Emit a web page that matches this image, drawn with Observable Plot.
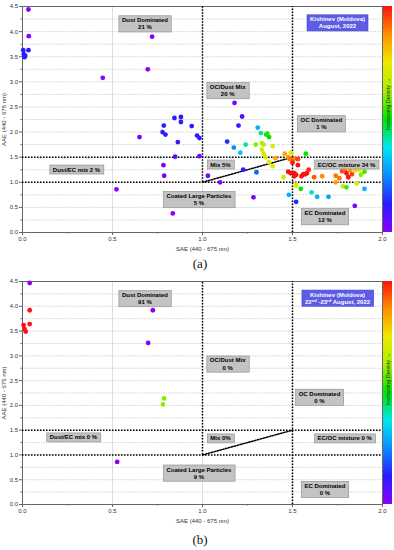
<!DOCTYPE html>
<html><head><meta charset="utf-8">
<script src="https://cdn.jsdelivr.net/npm/d3@7"></script>
<script src="https://cdn.jsdelivr.net/npm/@observablehq/plot@0.6"></script>
<style>
html,body{margin:0;padding:0;background:#fff;}
body{width:394px;height:550px;overflow:hidden;font-family:"Liberation Sans",Arial,sans-serif;}
svg{display:block;}
.cap{font-family:"Liberation Serif","Times New Roman",serif;font-size:13px;text-align:center;color:#111;padding-left:6px;}
</style></head>
<body>
<div id="pa"></div><div class="cap" id="ca" style="height:20px;line-height:20px">(a)</div>
<div id="pb"></div><div class="cap" id="cb" style="height:26px;line-height:28px">(b)</div>
<script>
// ---------- Panel (a) data: SAE, AAE, relative density (0 = lowest, 1 = highest)
const saeA = [0.033,0.035,0.033,0.004,0.007,0.011,0.015,0.446,0.72,0.696,0.844,0.88,0.88,0.94,0.785,0.778,0.794,0.65,0.97,0.983,0.863,0.848,0.983,
  0.783,0.787,
  0.522,0.835,1.283,1.098,
  1.03,1.226,1.30,1.35,1.405,1.37,1.39,1.476,1.485,1.45,
  1.178,1.22,1.20,1.137,1.174,1.21,1.24,1.307,1.324,1.354,1.37,1.36,1.296,1.33,1.34,1.39,1.33,1.34,1.457,1.49,
  1.574,
  1.51,1.53,1.50,1.53,1.476,1.49,1.51,1.55,1.56,1.57,1.58,1.52,1.51,1.62,1.665,1.74,1.857,1.74,1.776,1.79,1.82,1.83,1.81,1.80,1.85,1.87,1.90,1.88,1.76,1.59,
  1.52,1.52,1.546,1.606,1.637,1.70,1.48,1.52,1.846,1.90,1.78,1.80];
const aaeA = [4.44,3.91,3.63,3.63,3.55,3.49,3.52,3.08,3.90,3.25,2.28,2.30,2.20,2.12,2.13,2.00,1.95,1.90,1.93,1.88,1.80,1.51,1.52,
  1.34,1.13,
  0.86,0.38,0.70,1.00,
  1.13,1.25,1.20,1.50,1.48,1.40,1.32,1.50,1.46,1.10,
  2.58,2.31,2.13,1.81,1.69,1.59,1.75,2.09,1.98,1.95,1.90,1.97,1.75,1.78,1.75,1.72,1.65,1.57,1.57,1.59,
  1.57,
  1.47,1.46,1.39,1.34,1.21,1.18,1.18,1.12,1.16,1.16,1.18,1.15,1.12,1.10,1.12,1.00,0.98,1.13,1.22,1.25,1.24,1.16,1.10,1.18,1.24,1.25,1.21,1.15,1.08,1.25,
  0.96,0.93,0.87,0.80,0.71,0.71,0.75,0.61,0.53,0.87,0.92,0.90];
const densA = [0,0,0.125,0.125,0.125,0.125,0.125,0,0,0,0.125,0.125,0.13,0.125,0.125,0.125,0.125,0.02,0.125,0.125,0.125,0.06,0.06,
  0.02,0.02,
  0,0,0.02,0.02,
  0.02,0.1,0.2,0.72,0.84,0.72,0.72,0.86,0.9,0.7,
  0.02,0.08,0.125,0.14,0.25,0.33,0.42,0.3,0.42,0.5,0.5,0.52,0.6,0.64,0.64,0.7,0.7,0.7,0.84,0.72,
  0.5,
  0.9,0.95,1,1,1,1,1,1,1,1,1,1,1,0.93,0.88,0.86,0.72,0.9,0.95,0.9,0.86,0.95,1,1,0.78,0.72,0.55,0.6,0.9,0.98,
  0.7,0.72,0.5,0.4,0.3,0.28,0.3,0.14,0.02,0.3,0.66,0.55];

// ---------- Panel (b) data
const saeB = [0.04,0.04,0.04,0.006,0.012,0.018,0.724,0.698,0.787,0.78,0.526];
const aaeB = [4.47,3.92,3.64,3.62,3.54,3.49,3.92,3.26,2.14,2.02,0.86];
const densB = [0,1,1,1,1,1,0,0,0.6,0.6,0];

// ---------- Zone annotations
const zoneTextA = ["Dust Dominated\n21 %","OC/Dust Mix\n20 %","OC Dominated\n1 %","Dust/EC mix 2 %","Mix 5%","EC/OC mixture 34 %","Coated Large Particles\n5 %","EC Dominated\n12 %"];
const zoneSaeA = [0.68,1.14,1.66,0.30,1.10,1.80,0.98,1.68];
const zoneAaeA = [4.16,2.83,2.17,1.26,1.36,1.36,0.66,0.32];
const zoneTextB = ["Dust Dominated\n91 %","OC/Dust Mix\n0 %","OC Dominated\n0 %","Dust/EC mix 0 %","Mix 0%","EC/OC mixture 0 %","Coated Large Particles\n9 %","EC Dominated\n0 %"];
const zoneSaeB = [0.68,1.14,1.65,0.283,1.10,1.79,0.98,1.68];
const zoneAaeB = [4.16,2.84,2.17,1.36,1.34,1.34,0.64,0.31];
const siteTextA = "Kishinev (Moldova)\nAugust, 2022";
const siteTextB = "Kishinev (Moldova)\n22nd -23rd August, 2022";
const siteSae = [1.75, 1.75];
const siteAae = [4.18, 4.17];

// ---------- Classification boundaries
const aaeThresholds = [1.0, 1.5];
const saeThresholds = [1.0, 1.5];
const saeThresholdFrom = [1.0, 0.0];
const diagSae = [1.0, 1.5];
const diagAae = [1.0, 1.5];

// axes
const xTicks = [0, 0.5, 1.0, 1.5, 2.0];
const xMinor = [0.25, 0.75, 1.25, 1.75];
const yTicks = [0,0.5,1,1.5,2,2.5,3,3.5,4,4.5];
const yMinor = [0.25,0.75,1.25,1.75,2.25,2.75,3.25,3.75,4.25];
const yGrid = [0.25,0.5,0.75,1,1.25,1.5,1.75,2,2.25,2.5,2.75,3,3.25,3.5,3.75,4,4.25];
const xGrid = [0.5, 1.0, 1.5];
const colorbarText = "Increasing Density \u2192";

const rainbow = ["#8a00ff","#2a1cff","#0a8cff","#00e6f0","#00e600","#a8f000","#f0e800","#ff9000","#ff1010"];
const interp = d3.piecewise(d3.interpolateRgb, rainbow);

function panel(el, pts, zones, site, siteIdx, marginTop, plotH, gid) {
  const marginBottom = 22;
  const bounds = saeThresholds.map((x, i) => ({x, y1: saeThresholdFrom[i], y2: 4.5}));
  const diag = diagSae.map((x, i) => ({x, y: diagAae[i]}));
  const black = {stroke: "#000", strokeWidth: 1.5, strokeDasharray: "1.5,1.5"};
  const plot = Plot.plot({
    width: 394, height: marginTop + plotH + marginBottom,
    marginTop, marginBottom, marginLeft: 22, marginRight: 12,
    style: {fontFamily: "Liberation Sans, Arial, sans-serif", fontSize: "6px", color: "#333", background: "#fff"},
    x: {domain: [0, 2]},
    y: {domain: [0, 4.5]},
    color: {type: "linear", domain: [0, 1], interpolate: interp},
    marks: [
      Plot.ruleY(yGrid, {stroke: "#b8b8b8", strokeWidth: 0.7, strokeDasharray: "1.2,1.2"}),
      Plot.ruleX(xGrid, {stroke: "#cfcfcf", strokeWidth: 0.7}),
      Plot.frame({stroke: "#666", strokeWidth: 1}),
      Plot.axisY({ticks: yTicks, tickSize: 3, tickFormat: d3.format(".1f"), tickPadding: 1.5, stroke: "#666",
        label: "AAE (440 - 675 nm)", labelAnchor: "center", labelArrow: "none", labelOffset: 21, fill: "#333"}),
      Plot.axisY({ticks: yMinor, tickSize: 1.5, text: null, label: null, stroke: "#666"}),
      Plot.axisX({ticks: xTicks, tickSize: 3, tickFormat: d3.format(".1f"), tickPadding: 1.5, stroke: "#666",
        label: "SAE (440 - 675 nm)", labelAnchor: "center", labelArrow: "none", labelOffset: 18, fill: "#333"}),
      Plot.axisX({ticks: xMinor, tickSize: 1.5, text: null, label: null, stroke: "#666"}),
      Plot.ruleY(aaeThresholds, {x1: 0, x2: 2, ...black}),
      Plot.ruleX(bounds, {x: "x", y1: "y1", y2: "y2", ...black}),
      Plot.line(diag, {x: "x", y: "y", ...black}),
      Plot.dot(pts, {x: "sae", y: "aae", fill: "dens", r: 2.4, stroke: "none"}),
      Plot.text(zones, {x: "sae", y: "aae", text: "text", fontWeight: "bold", fontSize: 6, lineHeight: 1.2, fill: "#000"}),
      Plot.text([site], {x: () => siteSae[siteIdx], y: () => siteAae[siteIdx], text: d => d, fontWeight: "bold", fontSize: 6, lineHeight: 1.2, fill: "#fff"})
    ]
  });
  el.appendChild(plot);
  const s = d3.select(plot);
  const xs = plot.scale("x"), ys = plot.scale("y");
  const zoneKeys = new Set(zones.map(z => z.text.replace(/\n/g, "")));
  const siteKey = site.replace(/\n/g, "");
  const allText = s.selectAll("text");
  const zoneSel = allText.filter(function() { return zoneKeys.has(this.textContent); });
  const siteSel = allText.filter(function() { return this.textContent === siteKey; });
  // superscripts for ordinals
  siteSel.selectAll("tspan").each(function() {
    const t = d3.select(this), str = t.text();
    const parts = str.split(/(?<=\d)(st|nd|rd|th)\b/);
    if (parts.length < 2) return;
    t.text(null);
    parts.forEach((p, i) => {
      if (i % 2 === 1) { t.append("tspan").attr("font-size", "4.2px").attr("dy", -2).text(p); }
      else { const q = t.append("tspan").text(p); if (i > 0) q.attr("dy", 2); }
    });
  });
  // boxes behind the labels
  const box = (sel, fill, stroke) => sel.each(function() {
    const b = this.getBBox();
    const px = 3, py = 1.5;
    const r = document.createElementNS("http://www.w3.org/2000/svg", "rect");
    r.setAttribute("x", b.x - px); r.setAttribute("y", b.y - py);
    r.setAttribute("width", b.width + 2 * px); r.setAttribute("height", b.height + 2 * py);
    const tr = this.getAttribute("transform"); if (tr) r.setAttribute("transform", tr);
    r.setAttribute("fill", fill); r.setAttribute("stroke", stroke); r.setAttribute("stroke-width", 0.6);
    this.parentNode.insertBefore(r, this);
  });
  box(zoneSel, "#c3c3c3", "#8a8a8a");
  box(siteSel, "#5c5ce4", "#4a4ac8");
  // color bar
  const x0 = xs.apply(2) + 1, top = ys.apply(4.5), bot = ys.apply(0);
  const g = s.append("g");
  const lg = g.append("defs").append("linearGradient").attr("id", gid).attr("x1", 0).attr("y1", 1).attr("x2", 0).attr("y2", 0);
  rainbow.forEach((c, i) => lg.append("stop").attr("offset", i / (rainbow.length - 1)).attr("stop-color", c));
  g.append("rect").attr("x", x0).attr("y", top).attr("width", 9).attr("height", bot - top).attr("fill", `url(#${gid})`);
  g.append("text").attr("transform", `translate(${x0 + 4.8},${top + 98}) rotate(-90)`)
    .attr("text-anchor", "middle").attr("dominant-baseline", "central")
    .attr("font-size", 5.5).attr("fill", "#2a2a2a").text(colorbarText);
}

const ptsA = saeA.map((sae, i) => ({sae, aae: aaeA[i], dens: densA[i]}));
const ptsB = saeB.map((sae, i) => ({sae, aae: aaeB[i], dens: densB[i]}));
const zonesA = zoneTextA.map((text, i) => ({text, sae: zoneSaeA[i], aae: zoneAaeA[i]}));
const zonesB = zoneTextB.map((text, i) => ({text, sae: zoneSaeB[i], aae: zoneAaeB[i]}));

panel(document.getElementById("pa"), ptsA, zonesA, siteTextA, 0, 6, 226, "gradA");
panel(document.getElementById("pb"), ptsB, zonesB, siteTextB, 1, 7, 223, "gradB");
</script>
</body></html>
